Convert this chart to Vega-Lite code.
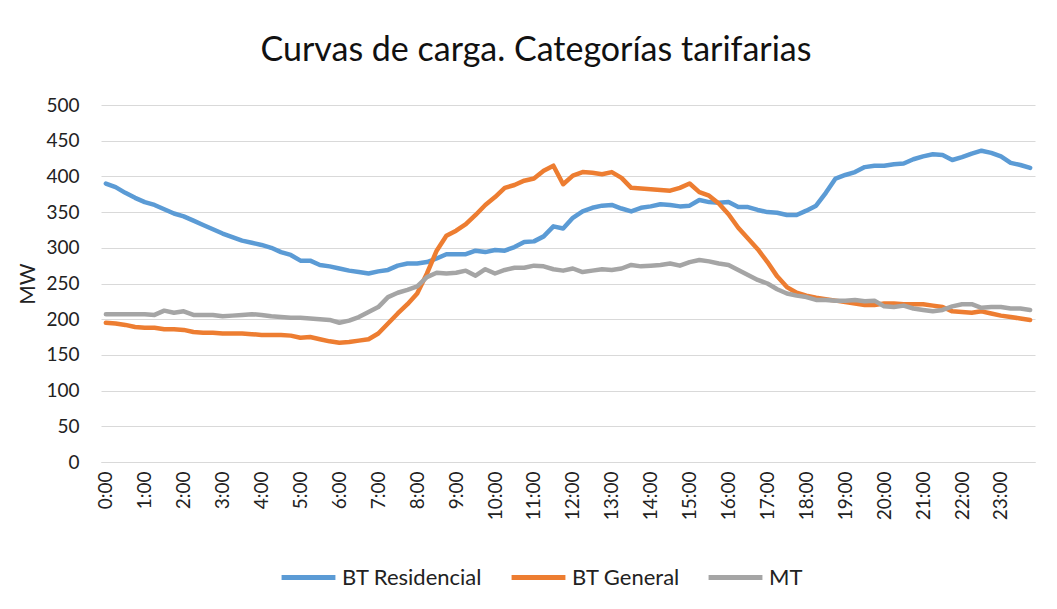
{
"$schema": "https://vega.github.io/schema/vega-lite/v6.json",
"width": 934, "height": 357,
"autosize": "none",
"padding": {"left": 101, "top": 105, "right": 22, "bottom": 147},
"background": "white",
"title": {"text": "Curvas de carga. Categorías tarifarias", "font": "Lato", "fontSize": 34, "fontWeight": "normal", "color": "#111", "anchor": "middle", "dx": -32, "offset": 1, "baseline": "alphabetic"},
"data": {"values": [
{"hora":"0:00","serie":"BT Residencial","mw":390},{"hora":"0:15","serie":"BT Residencial","mw":385},{"hora":"0:30","serie":"BT Residencial","mw":377},{"hora":"0:45","serie":"BT Residencial","mw":370},
{"hora":"1:00","serie":"BT Residencial","mw":364},{"hora":"1:15","serie":"BT Residencial","mw":360},{"hora":"1:30","serie":"BT Residencial","mw":354},{"hora":"1:45","serie":"BT Residencial","mw":348},
{"hora":"2:00","serie":"BT Residencial","mw":344},{"hora":"2:15","serie":"BT Residencial","mw":338},{"hora":"2:30","serie":"BT Residencial","mw":332},{"hora":"2:45","serie":"BT Residencial","mw":326},
{"hora":"3:00","serie":"BT Residencial","mw":320},{"hora":"3:15","serie":"BT Residencial","mw":315},{"hora":"3:30","serie":"BT Residencial","mw":310},{"hora":"3:45","serie":"BT Residencial","mw":307},
{"hora":"4:00","serie":"BT Residencial","mw":304},{"hora":"4:15","serie":"BT Residencial","mw":300},{"hora":"4:30","serie":"BT Residencial","mw":294},{"hora":"4:45","serie":"BT Residencial","mw":290},
{"hora":"5:00","serie":"BT Residencial","mw":282},{"hora":"5:15","serie":"BT Residencial","mw":282},{"hora":"5:30","serie":"BT Residencial","mw":276},{"hora":"5:45","serie":"BT Residencial","mw":274},
{"hora":"6:00","serie":"BT Residencial","mw":271},{"hora":"6:15","serie":"BT Residencial","mw":268},{"hora":"6:30","serie":"BT Residencial","mw":266},{"hora":"6:45","serie":"BT Residencial","mw":264},
{"hora":"7:00","serie":"BT Residencial","mw":267},{"hora":"7:15","serie":"BT Residencial","mw":269},{"hora":"7:30","serie":"BT Residencial","mw":275},{"hora":"7:45","serie":"BT Residencial","mw":278},
{"hora":"8:00","serie":"BT Residencial","mw":278},{"hora":"8:15","serie":"BT Residencial","mw":280},{"hora":"8:30","serie":"BT Residencial","mw":285},{"hora":"8:45","serie":"BT Residencial","mw":291},
{"hora":"9:00","serie":"BT Residencial","mw":291},{"hora":"9:15","serie":"BT Residencial","mw":291},{"hora":"9:30","serie":"BT Residencial","mw":296},{"hora":"9:45","serie":"BT Residencial","mw":294},
{"hora":"10:00","serie":"BT Residencial","mw":297},{"hora":"10:15","serie":"BT Residencial","mw":296},{"hora":"10:30","serie":"BT Residencial","mw":301},{"hora":"10:45","serie":"BT Residencial","mw":308},
{"hora":"11:00","serie":"BT Residencial","mw":309},{"hora":"11:15","serie":"BT Residencial","mw":316},{"hora":"11:30","serie":"BT Residencial","mw":330},{"hora":"11:45","serie":"BT Residencial","mw":327},
{"hora":"12:00","serie":"BT Residencial","mw":342},{"hora":"12:15","serie":"BT Residencial","mw":351},{"hora":"12:30","serie":"BT Residencial","mw":356},{"hora":"12:45","serie":"BT Residencial","mw":359},
{"hora":"13:00","serie":"BT Residencial","mw":360},{"hora":"13:15","serie":"BT Residencial","mw":355},{"hora":"13:30","serie":"BT Residencial","mw":351},{"hora":"13:45","serie":"BT Residencial","mw":356},
{"hora":"14:00","serie":"BT Residencial","mw":358},{"hora":"14:15","serie":"BT Residencial","mw":361},{"hora":"14:30","serie":"BT Residencial","mw":360},{"hora":"14:45","serie":"BT Residencial","mw":358},
{"hora":"15:00","serie":"BT Residencial","mw":359},{"hora":"15:15","serie":"BT Residencial","mw":367},{"hora":"15:30","serie":"BT Residencial","mw":364},{"hora":"15:45","serie":"BT Residencial","mw":363},
{"hora":"16:00","serie":"BT Residencial","mw":364},{"hora":"16:15","serie":"BT Residencial","mw":357},{"hora":"16:30","serie":"BT Residencial","mw":357},{"hora":"16:45","serie":"BT Residencial","mw":353},
{"hora":"17:00","serie":"BT Residencial","mw":350},{"hora":"17:15","serie":"BT Residencial","mw":349},{"hora":"17:30","serie":"BT Residencial","mw":346},{"hora":"17:45","serie":"BT Residencial","mw":346},
{"hora":"18:00","serie":"BT Residencial","mw":352},{"hora":"18:15","serie":"BT Residencial","mw":359},{"hora":"18:30","serie":"BT Residencial","mw":377},{"hora":"18:45","serie":"BT Residencial","mw":397},
{"hora":"19:00","serie":"BT Residencial","mw":402},{"hora":"19:15","serie":"BT Residencial","mw":406},{"hora":"19:30","serie":"BT Residencial","mw":413},{"hora":"19:45","serie":"BT Residencial","mw":415},
{"hora":"20:00","serie":"BT Residencial","mw":415},{"hora":"20:15","serie":"BT Residencial","mw":417},{"hora":"20:30","serie":"BT Residencial","mw":418},{"hora":"20:45","serie":"BT Residencial","mw":424},
{"hora":"21:00","serie":"BT Residencial","mw":428},{"hora":"21:15","serie":"BT Residencial","mw":431},{"hora":"21:30","serie":"BT Residencial","mw":430},{"hora":"21:45","serie":"BT Residencial","mw":423},
{"hora":"22:00","serie":"BT Residencial","mw":427},{"hora":"22:15","serie":"BT Residencial","mw":432},{"hora":"22:30","serie":"BT Residencial","mw":436},{"hora":"22:45","serie":"BT Residencial","mw":433},
{"hora":"23:00","serie":"BT Residencial","mw":428},{"hora":"23:15","serie":"BT Residencial","mw":419},{"hora":"23:30","serie":"BT Residencial","mw":416},{"hora":"23:45","serie":"BT Residencial","mw":412},
{"hora":"0:00","serie":"BT General","mw":195},{"hora":"0:15","serie":"BT General","mw":194},{"hora":"0:30","serie":"BT General","mw":192},{"hora":"0:45","serie":"BT General","mw":189},
{"hora":"1:00","serie":"BT General","mw":188},{"hora":"1:15","serie":"BT General","mw":188},{"hora":"1:30","serie":"BT General","mw":186},{"hora":"1:45","serie":"BT General","mw":186},
{"hora":"2:00","serie":"BT General","mw":185},{"hora":"2:15","serie":"BT General","mw":182},{"hora":"2:30","serie":"BT General","mw":181},{"hora":"2:45","serie":"BT General","mw":181},
{"hora":"3:00","serie":"BT General","mw":180},{"hora":"3:15","serie":"BT General","mw":180},{"hora":"3:30","serie":"BT General","mw":180},{"hora":"3:45","serie":"BT General","mw":179},
{"hora":"4:00","serie":"BT General","mw":178},{"hora":"4:15","serie":"BT General","mw":178},{"hora":"4:30","serie":"BT General","mw":178},{"hora":"4:45","serie":"BT General","mw":177},
{"hora":"5:00","serie":"BT General","mw":174},{"hora":"5:15","serie":"BT General","mw":175},{"hora":"5:30","serie":"BT General","mw":172},{"hora":"5:45","serie":"BT General","mw":169},
{"hora":"6:00","serie":"BT General","mw":167},{"hora":"6:15","serie":"BT General","mw":168},{"hora":"6:30","serie":"BT General","mw":170},{"hora":"6:45","serie":"BT General","mw":172},
{"hora":"7:00","serie":"BT General","mw":180},{"hora":"7:15","serie":"BT General","mw":194},{"hora":"7:30","serie":"BT General","mw":208},{"hora":"7:45","serie":"BT General","mw":221},
{"hora":"8:00","serie":"BT General","mw":236},{"hora":"8:15","serie":"BT General","mw":264},{"hora":"8:30","serie":"BT General","mw":296},{"hora":"8:45","serie":"BT General","mw":317},
{"hora":"9:00","serie":"BT General","mw":324},{"hora":"9:15","serie":"BT General","mw":333},{"hora":"9:30","serie":"BT General","mw":346},{"hora":"9:45","serie":"BT General","mw":360},
{"hora":"10:00","serie":"BT General","mw":371},{"hora":"10:15","serie":"BT General","mw":384},{"hora":"10:30","serie":"BT General","mw":388},{"hora":"10:45","serie":"BT General","mw":394},
{"hora":"11:00","serie":"BT General","mw":397},{"hora":"11:15","serie":"BT General","mw":408},{"hora":"11:30","serie":"BT General","mw":415},{"hora":"11:45","serie":"BT General","mw":389},
{"hora":"12:00","serie":"BT General","mw":401},{"hora":"12:15","serie":"BT General","mw":406},{"hora":"12:30","serie":"BT General","mw":405},{"hora":"12:45","serie":"BT General","mw":403},
{"hora":"13:00","serie":"BT General","mw":406},{"hora":"13:15","serie":"BT General","mw":398},{"hora":"13:30","serie":"BT General","mw":384},{"hora":"13:45","serie":"BT General","mw":383},
{"hora":"14:00","serie":"BT General","mw":382},{"hora":"14:15","serie":"BT General","mw":381},{"hora":"14:30","serie":"BT General","mw":380},{"hora":"14:45","serie":"BT General","mw":384},
{"hora":"15:00","serie":"BT General","mw":390},{"hora":"15:15","serie":"BT General","mw":378},{"hora":"15:30","serie":"BT General","mw":373},{"hora":"15:45","serie":"BT General","mw":362},
{"hora":"16:00","serie":"BT General","mw":347},{"hora":"16:15","serie":"BT General","mw":328},{"hora":"16:30","serie":"BT General","mw":313},{"hora":"16:45","serie":"BT General","mw":298},
{"hora":"17:00","serie":"BT General","mw":280},{"hora":"17:15","serie":"BT General","mw":260},{"hora":"17:30","serie":"BT General","mw":245},{"hora":"17:45","serie":"BT General","mw":237},
{"hora":"18:00","serie":"BT General","mw":233},{"hora":"18:15","serie":"BT General","mw":230},{"hora":"18:30","serie":"BT General","mw":228},{"hora":"18:45","serie":"BT General","mw":226},
{"hora":"19:00","serie":"BT General","mw":224},{"hora":"19:15","serie":"BT General","mw":222},{"hora":"19:30","serie":"BT General","mw":220},{"hora":"19:45","serie":"BT General","mw":220},
{"hora":"20:00","serie":"BT General","mw":222},{"hora":"20:15","serie":"BT General","mw":222},{"hora":"20:30","serie":"BT General","mw":221},{"hora":"20:45","serie":"BT General","mw":221},
{"hora":"21:00","serie":"BT General","mw":221},{"hora":"21:15","serie":"BT General","mw":219},{"hora":"21:30","serie":"BT General","mw":217},{"hora":"21:45","serie":"BT General","mw":211},
{"hora":"22:00","serie":"BT General","mw":210},{"hora":"22:15","serie":"BT General","mw":209},{"hora":"22:30","serie":"BT General","mw":211},{"hora":"22:45","serie":"BT General","mw":208},
{"hora":"23:00","serie":"BT General","mw":205},{"hora":"23:15","serie":"BT General","mw":203},{"hora":"23:30","serie":"BT General","mw":201},{"hora":"23:45","serie":"BT General","mw":199},
{"hora":"0:00","serie":"MT","mw":207},{"hora":"0:15","serie":"MT","mw":207},{"hora":"0:30","serie":"MT","mw":207},{"hora":"0:45","serie":"MT","mw":207},
{"hora":"1:00","serie":"MT","mw":207},{"hora":"1:15","serie":"MT","mw":206},{"hora":"1:30","serie":"MT","mw":212},{"hora":"1:45","serie":"MT","mw":209},
{"hora":"2:00","serie":"MT","mw":211},{"hora":"2:15","serie":"MT","mw":206},{"hora":"2:30","serie":"MT","mw":206},{"hora":"2:45","serie":"MT","mw":206},
{"hora":"3:00","serie":"MT","mw":204},{"hora":"3:15","serie":"MT","mw":205},{"hora":"3:30","serie":"MT","mw":206},{"hora":"3:45","serie":"MT","mw":207},
{"hora":"4:00","serie":"MT","mw":206},{"hora":"4:15","serie":"MT","mw":204},{"hora":"4:30","serie":"MT","mw":203},{"hora":"4:45","serie":"MT","mw":202},
{"hora":"5:00","serie":"MT","mw":202},{"hora":"5:15","serie":"MT","mw":201},{"hora":"5:30","serie":"MT","mw":200},{"hora":"5:45","serie":"MT","mw":199},
{"hora":"6:00","serie":"MT","mw":195},{"hora":"6:15","serie":"MT","mw":198},{"hora":"6:30","serie":"MT","mw":203},{"hora":"6:45","serie":"MT","mw":210},
{"hora":"7:00","serie":"MT","mw":217},{"hora":"7:15","serie":"MT","mw":231},{"hora":"7:30","serie":"MT","mw":237},{"hora":"7:45","serie":"MT","mw":241},
{"hora":"8:00","serie":"MT","mw":246},{"hora":"8:15","serie":"MT","mw":259},{"hora":"8:30","serie":"MT","mw":265},{"hora":"8:45","serie":"MT","mw":264},
{"hora":"9:00","serie":"MT","mw":265},{"hora":"9:15","serie":"MT","mw":268},{"hora":"9:30","serie":"MT","mw":261},{"hora":"9:45","serie":"MT","mw":270},
{"hora":"10:00","serie":"MT","mw":264},{"hora":"10:15","serie":"MT","mw":269},{"hora":"10:30","serie":"MT","mw":272},{"hora":"10:45","serie":"MT","mw":272},
{"hora":"11:00","serie":"MT","mw":275},{"hora":"11:15","serie":"MT","mw":274},{"hora":"11:30","serie":"MT","mw":270},{"hora":"11:45","serie":"MT","mw":268},
{"hora":"12:00","serie":"MT","mw":271},{"hora":"12:15","serie":"MT","mw":266},{"hora":"12:30","serie":"MT","mw":268},{"hora":"12:45","serie":"MT","mw":270},
{"hora":"13:00","serie":"MT","mw":269},{"hora":"13:15","serie":"MT","mw":271},{"hora":"13:30","serie":"MT","mw":276},{"hora":"13:45","serie":"MT","mw":274},
{"hora":"14:00","serie":"MT","mw":275},{"hora":"14:15","serie":"MT","mw":276},{"hora":"14:30","serie":"MT","mw":278},{"hora":"14:45","serie":"MT","mw":275},
{"hora":"15:00","serie":"MT","mw":280},{"hora":"15:15","serie":"MT","mw":283},{"hora":"15:30","serie":"MT","mw":281},{"hora":"15:45","serie":"MT","mw":278},
{"hora":"16:00","serie":"MT","mw":276},{"hora":"16:15","serie":"MT","mw":269},{"hora":"16:30","serie":"MT","mw":262},{"hora":"16:45","serie":"MT","mw":255},
{"hora":"17:00","serie":"MT","mw":250},{"hora":"17:15","serie":"MT","mw":242},{"hora":"17:30","serie":"MT","mw":236},{"hora":"17:45","serie":"MT","mw":233},
{"hora":"18:00","serie":"MT","mw":231},{"hora":"18:15","serie":"MT","mw":227},{"hora":"18:30","serie":"MT","mw":227},{"hora":"18:45","serie":"MT","mw":226},
{"hora":"19:00","serie":"MT","mw":226},{"hora":"19:15","serie":"MT","mw":227},{"hora":"19:30","serie":"MT","mw":225},{"hora":"19:45","serie":"MT","mw":226},
{"hora":"20:00","serie":"MT","mw":218},{"hora":"20:15","serie":"MT","mw":217},{"hora":"20:30","serie":"MT","mw":219},{"hora":"20:45","serie":"MT","mw":215},
{"hora":"21:00","serie":"MT","mw":213},{"hora":"21:15","serie":"MT","mw":211},{"hora":"21:30","serie":"MT","mw":213},{"hora":"21:45","serie":"MT","mw":218},
{"hora":"22:00","serie":"MT","mw":221},{"hora":"22:15","serie":"MT","mw":221},{"hora":"22:30","serie":"MT","mw":216},{"hora":"22:45","serie":"MT","mw":217},
{"hora":"23:00","serie":"MT","mw":217},{"hora":"23:15","serie":"MT","mw":215},{"hora":"23:30","serie":"MT","mw":215},{"hora":"23:45","serie":"MT","mw":213}
]},
"mark": {"type": "line", "strokeWidth": 4.5, "strokeCap": "round", "strokeJoin": "round"},
"encoding": {
  "x": {"field": "hora", "type": "ordinal", "sort": null,
        "scale": {"type": "point", "padding": 0.5},
        "axis": {"title": null, "grid": false, "ticks": false, "domain": true, "domainColor": "#D9D9D9", "domainWidth": 1,
                 "labelAngle": -90, "labelFontSize": 19, "labelPadding": 9, "labelOverlap": false, "labelColor": "#222",
                 "labelExpr": "indexof(datum.label, ':00') >= 0 ? datum.label : ''"}},
  "y": {"field": "mw", "type": "quantitative",
        "scale": {"domain": [0, 500], "nice": false, "zero": true},
        "axis": {"values": [0, 50, 100, 150, 200, 250, 300, 350, 400, 450, 500], "grid": true, "gridColor": "#D9D9D9", "gridWidth": 1,
                 "domain": false, "ticks": false, "labelFontSize": 19, "labelPadding": 22, "labelColor": "#222",
                 "title": "MW", "titleFontSize": 21, "titleFontWeight": "normal", "titleColor": "#222", "titlePadding": 7}},
  "color": {"field": "serie", "type": "nominal",
            "scale": {"domain": ["BT Residencial", "BT General", "MT"], "range": ["#5B9BD5", "#ED7D31", "#A5A5A5"]},
            "legend": {"orient": "none", "legendX": 178, "legendY": 443, "direction": "horizontal", "title": null,
                       "symbolType": "stroke", "symbolSize": 2900, "symbolStrokeWidth": 5, "labelFontSize": 22, "labelColor": "#222",
                       "labelOffset": 4, "columnPadding": 18, "gridAlign": "none"}}
},
"config": {"font": "Lato", "view": {"stroke": null}}
}
